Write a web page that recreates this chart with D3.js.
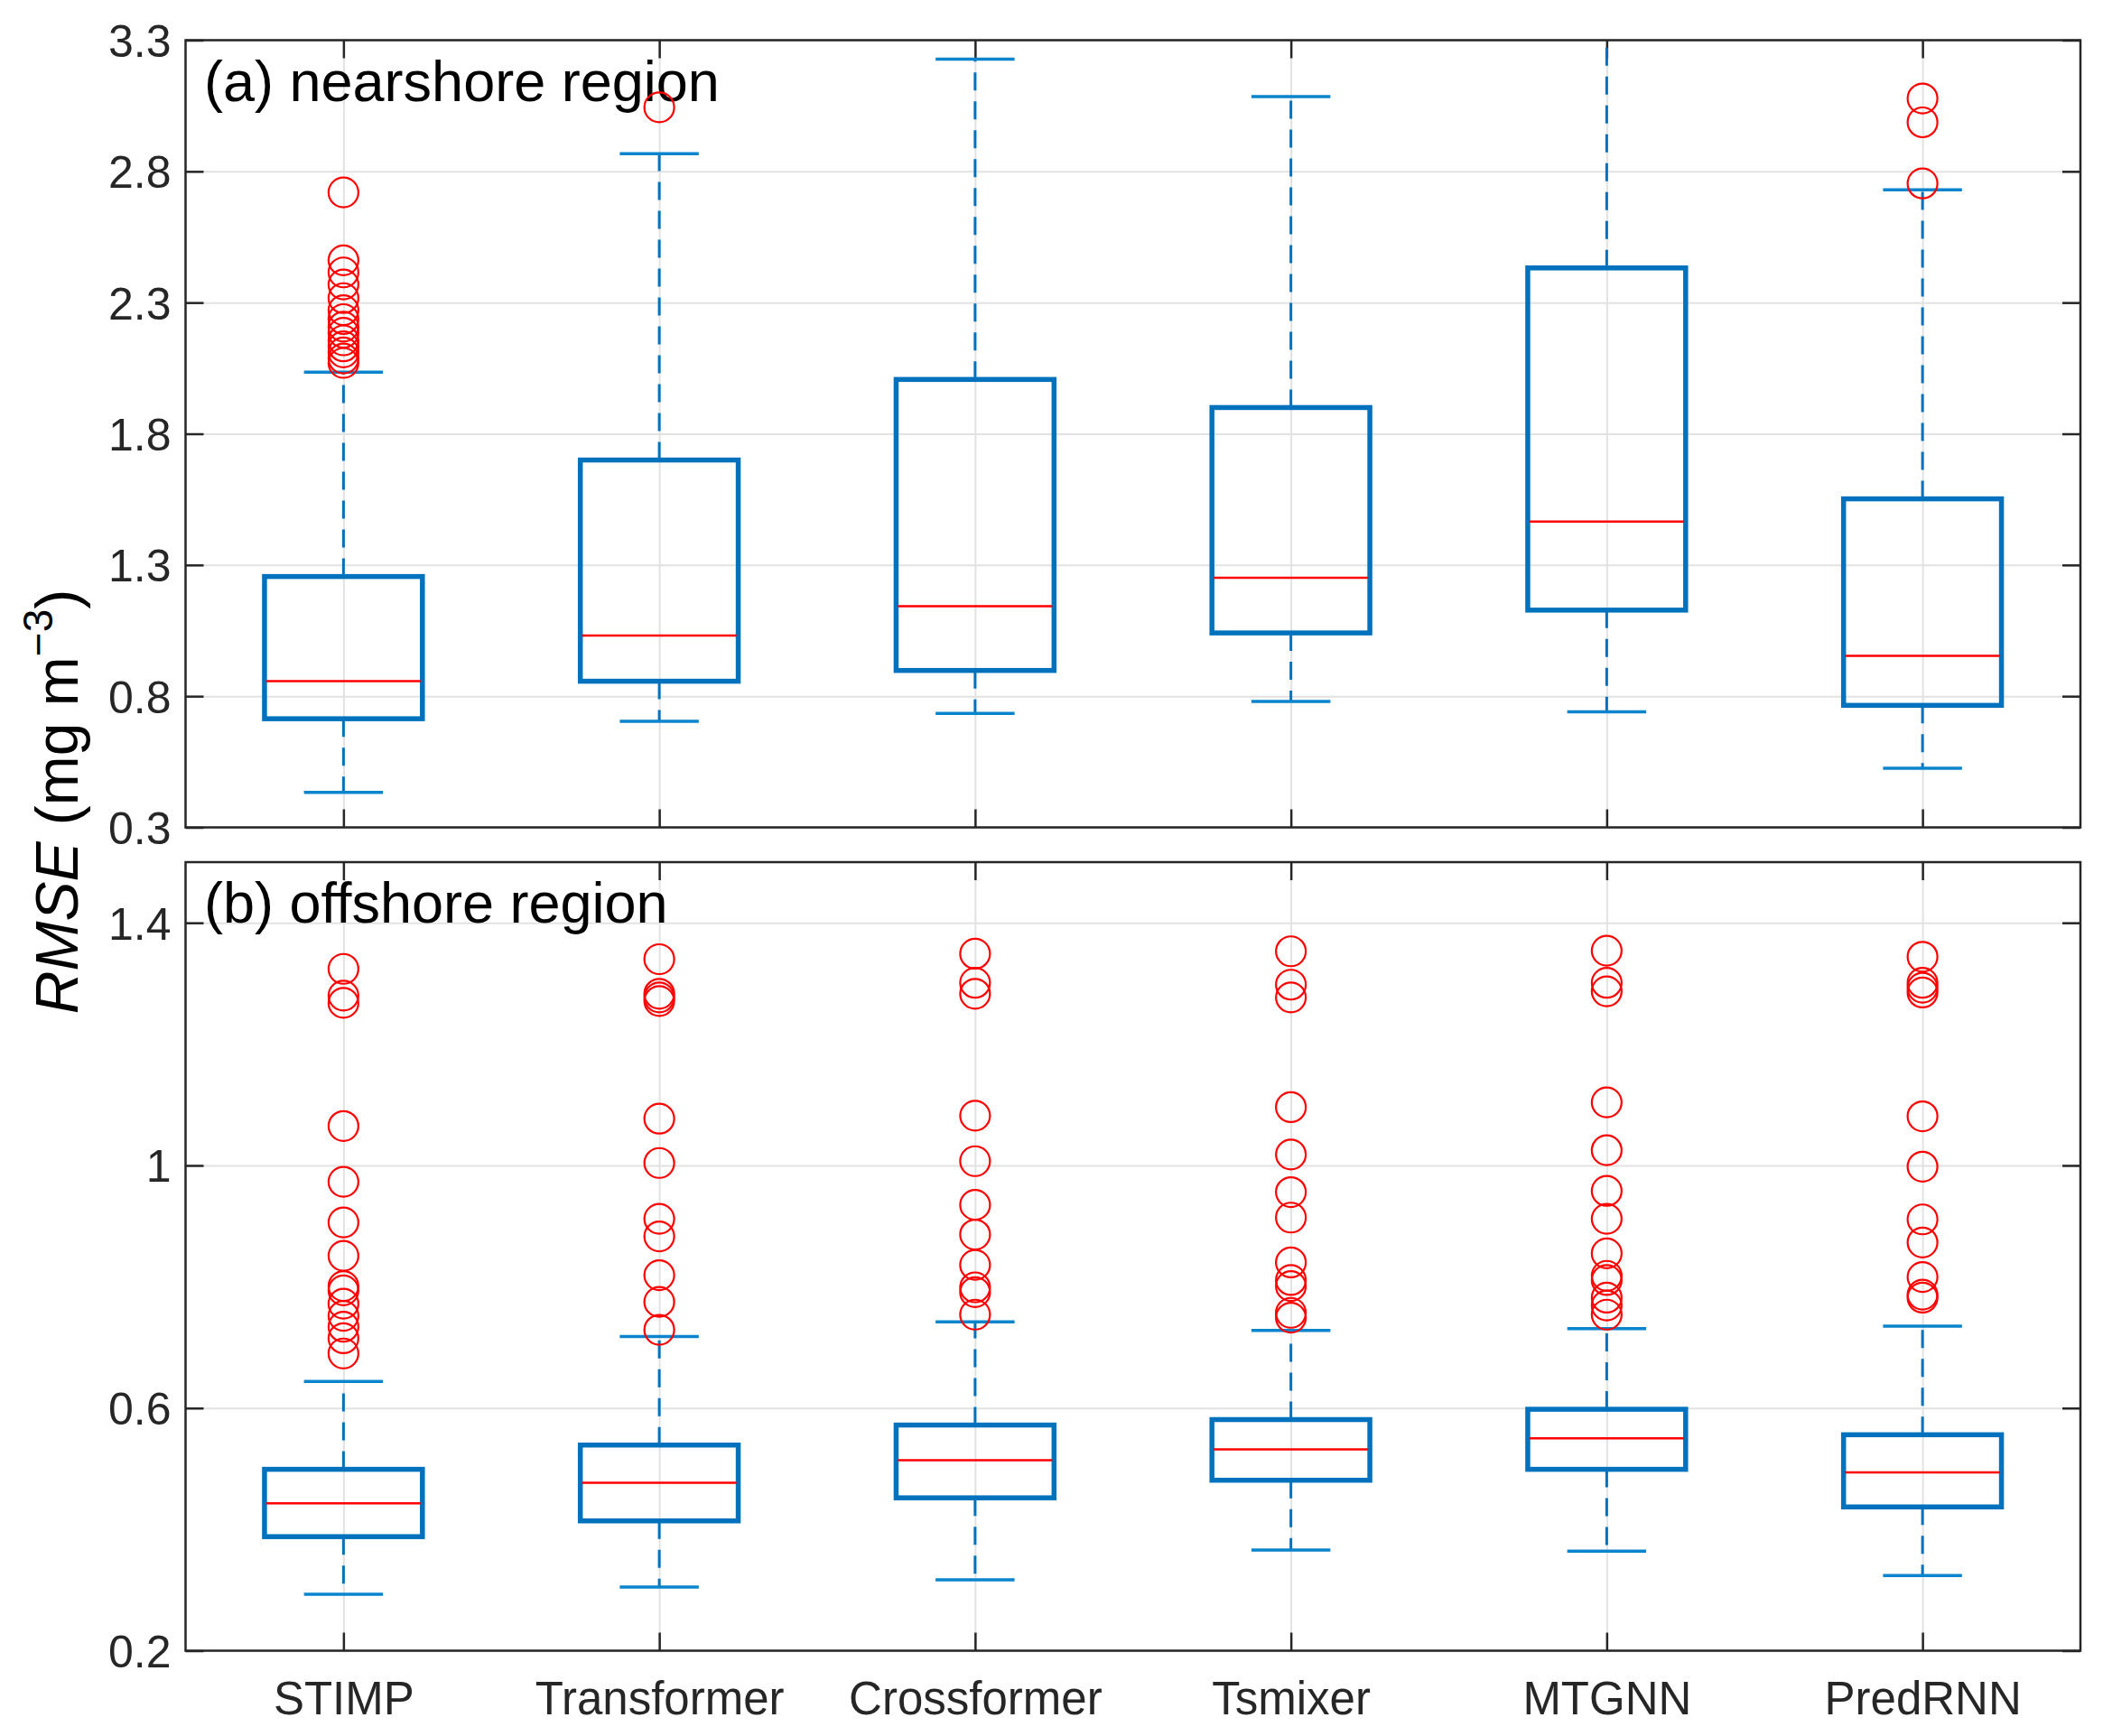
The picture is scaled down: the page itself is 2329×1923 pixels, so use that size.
<!DOCTYPE html>
<html>
<head>
<meta charset="utf-8">
<script src="https://cdn.jsdelivr.net/npm/d3@7"></script>
<style>
  html, body { margin: 0; padding: 0; background: #fff; }
  svg { display: block; font-family: "Liberation Sans", Arial, Helvetica, sans-serif; }
</style>
</head>
<body>
<div id="chart"></div>
<script>
// ── Datos ─────────────────────────────────────────────
const models = ['STIMP', 'Transformer', 'Crossformer', 'Tsmixer', 'MTGNN', 'PredRNN'];

// (a) nearshore
const nearQ1  = [0.714, 0.857, 0.898, 1.041, 1.128, 0.765];
const nearMed = [0.857, 1.031, 1.143, 1.251, 1.465, 0.954];
const nearQ3  = [1.256, 1.700, 2.007, 1.900, 2.432, 1.552];
const nearLo  = [0.433, 0.704, 0.734, 0.780, 0.740, 0.525];
const nearHi  = [2.035, 2.867, 3.228, 3.085, 3.500, 2.730];
const nearOut = [
    [2.72, 2.461, 2.415, 2.369, 2.317, 2.271, 2.237, 2.208, 2.185, 2.156, 2.133, 2.11, 2.087, 2.07],
    [3.044],
    [],
    [],
    [],
    [3.078, 2.987, 2.754]
];
const nearTicks = [0.3, 0.8, 1.3, 1.8, 2.3, 2.8, 3.3];

// (b) offshore
const offQ1  = [0.388, 0.414, 0.452, 0.481, 0.499, 0.437];
const offMed = [0.443, 0.477, 0.514, 0.532, 0.550, 0.494];
const offQ3  = [0.499, 0.539, 0.572, 0.581, 0.598, 0.556];
const offLo  = [0.293, 0.305, 0.317, 0.366, 0.364, 0.324];
const offHi  = [0.644, 0.718, 0.742, 0.728, 0.731, 0.735];
const offOut = [
    [1.324, 1.28, 1.268, 1.065, 0.973, 0.906, 0.851, 0.801, 0.794, 0.772, 0.752, 0.734, 0.715, 0.69],
    [1.34, 1.283, 1.277, 1.271, 1.077, 1.004, 0.912, 0.883, 0.819, 0.775, 0.729],
    [1.349, 1.301, 1.283, 1.082, 1.007, 0.935, 0.886, 0.836, 0.799, 0.791, 0.754],
    [1.353, 1.298, 1.277, 1.096, 1.018, 0.956, 0.914, 0.84, 0.811, 0.801, 0.757, 0.749],
    [1.354, 1.301, 1.287, 1.104, 1.025, 0.958, 0.912, 0.855, 0.818, 0.811, 0.782, 0.769, 0.754],
    [1.344, 1.301, 1.293, 1.285, 1.081, 0.998, 0.911, 0.873, 0.816, 0.787, 0.782]
];
const offTicks = [0.2, 0.6, 1, 1.4];

// ── Configuración general ─────────────────────────────
const W = 2329, H = 1923;
const left = 205.5, right = 2304;
const BLUE = '#0072BD', RED = '#FF0000', AXIS = '#262626', GRID = '#e2e2e2';

const svg = d3.select('#chart').append('svg')
    .attr('width', W).attr('height', H);

const x = d3.scalePoint().domain(models).range([left, right]).padding(0.5);
const step = x.step();

function drawPanel(opts) {
    const { id, top, bottom, domain, ticks, q1, med, q3, lo, hi, out, label, labelY, showX } = opts;
    const y = d3.scaleLinear().domain(domain).range([bottom, top]);
    const g = svg.append('g');

    g.append('clipPath').attr('id', 'clip-' + id)
        .append('rect')
        .attr('x', left).attr('y', top)
        .attr('width', right - left).attr('height', bottom - top);

    // ── Rejilla ──────────────────────────────────────
    const grid = g.append('g');
    grid.append('g')
        .attr('transform', `translate(${left},0)`)
        .call(d3.axisLeft(y).tickValues(ticks).tickSize(-(right - left)).tickFormat(''))
        .call(s => s.select('.domain').remove())
        .call(s => s.selectAll('line').attr('stroke', GRID).attr('stroke-width', 2));
    grid.append('g')
        .attr('transform', `translate(0,${bottom})`)
        .call(d3.axisBottom(x).tickSize(-(bottom - top)).tickFormat(''))
        .call(s => s.select('.domain').remove())
        .call(s => s.selectAll('line').attr('stroke', GRID).attr('stroke-width', 2));

    // ── Ejes (ticks hacia dentro) ────────────────────
    const tick = 20;
    const styleAxis = s => {
        s.select('.domain').remove();
        s.selectAll('line').attr('stroke', AXIS).attr('stroke-width', 2.5);
        s.selectAll('text')
            .attr('fill', AXIS)
            .style('font-size', '50px')
            .style('font-family', '"Liberation Sans", Arial, sans-serif');
    };
    g.append('g')
        .attr('transform', `translate(${left},0)`)
        .call(d3.axisLeft(y).tickValues(ticks).tickSize(-tick).tickPadding(16).tickFormat(d => String(d)))
        .call(styleAxis)
        .call(s => s.selectAll('text').attr('dy', '0.36em'));
    g.append('g')
        .attr('transform', `translate(${right},0)`)
        .call(d3.axisRight(y).tickValues(ticks).tickSize(-tick).tickFormat(''))
        .call(styleAxis);
    g.append('g')
        .attr('transform', `translate(0,${top})`)
        .call(d3.axisTop(x).tickSize(-tick).tickFormat(''))
        .call(styleAxis);
    g.append('g')
        .attr('transform', `translate(0,${bottom})`)
        .call(d3.axisBottom(x).tickSize(-tick).tickPadding(34).tickFormat(showX ? d => d : ''))
        .call(styleAxis)
        .call(s => s.selectAll('text').style('font-size', '51px'));

    // ── Etiqueta del panel ───────────────────────────
    g.append('text')
        .attr('x', 226).attr('y', labelY)
        .attr('fill', '#000')
        .style('font-size', '63px')
        .text(label);

    // ── Cajas ────────────────────────────────────────
    const data = models.map((m, i) => ({
        m, q1: q1[i], med: med[i], q3: q3[i], lo: lo[i], hi: hi[i], out: out[i]
    }));
    const plot = g.append('g').attr('clip-path', `url(#clip-${id})`);
    const box = plot.selectAll('g.box')
        .data(data)
        .join('g')
        .attr('class', 'box');

    const bw = step * 0.25, cw = step * 0.125;

    // bigotes discontinuos
    box.append('line')
        .attr('x1', d => x(d.m)).attr('x2', d => x(d.m))
        .attr('y1', d => y(d.q3)).attr('y2', d => y(d.hi))
        .attr('stroke', BLUE).attr('stroke-width', 3)
        .attr('stroke-dasharray', '20,12');
    box.append('line')
        .attr('x1', d => x(d.m)).attr('x2', d => x(d.m))
        .attr('y1', d => y(d.q1)).attr('y2', d => y(d.lo))
        .attr('stroke', BLUE).attr('stroke-width', 3)
        .attr('stroke-dasharray', '20,12');

    // topes
    box.append('line')
        .attr('x1', d => x(d.m) - cw).attr('x2', d => x(d.m) + cw)
        .attr('y1', d => y(d.hi)).attr('y2', d => y(d.hi))
        .attr('stroke', '#0a84cc').attr('stroke-width', 3.5);
    box.append('line')
        .attr('x1', d => x(d.m) - cw).attr('x2', d => x(d.m) + cw)
        .attr('y1', d => y(d.lo)).attr('y2', d => y(d.lo))
        .attr('stroke', '#0a84cc').attr('stroke-width', 3.5);

    box.append('rect')
        .attr('x', d => x(d.m) - bw)
        .attr('y', d => y(d.q3))
        .attr('width', bw * 2)
        .attr('height', d => y(d.q1) - y(d.q3))
        .attr('fill', 'none')
        .attr('stroke', BLUE).attr('stroke-width', 5.5);

    box.append('line')
        .attr('x1', d => x(d.m) - bw + 2).attr('x2', d => x(d.m) + bw - 2)
        .attr('y1', d => y(d.med)).attr('y2', d => y(d.med))
        .attr('stroke', RED).attr('stroke-width', 2.5);

    // valores atípicos
    box.selectAll('circle')
        .data(d => d.out.map(v => ({ m: d.m, v })))
        .join('circle')
        .attr('cx', d => x(d.m))
        .attr('cy', d => y(d.v))
        .attr('r', 16.5)
        .attr('fill', 'none')
        .attr('stroke', RED).attr('stroke-width', 2.2);

    // marco
    g.append('rect')
        .attr('x', left).attr('y', top)
        .attr('width', right - left).attr('height', bottom - top)
        .attr('fill', 'none')
        .attr('stroke', AXIS).attr('stroke-width', 2.5);
}

drawPanel({
    id: 'near', top: 44.5, bottom: 916.5, domain: [0.3, 3.3], ticks: nearTicks,
    q1: nearQ1, med: nearMed, q3: nearQ3, lo: nearLo, hi: nearHi, out: nearOut,
    label: '(a) nearshore region', labelY: 112, showX: false
});
drawPanel({
    id: 'off', top: 955, bottom: 1828.5, domain: [0.2, 1.5], ticks: offTicks,
    q1: offQ1, med: offMed, q3: offQ3, lo: offLo, hi: offHi, out: offOut,
    label: '(b) offshore region', labelY: 1022, showX: true
});

// ── Título del eje Y ──────────────────────────────────
const yl = svg.append('text')
    .attr('transform', 'translate(86,888) rotate(-90)')
    .attr('text-anchor', 'middle')
    .attr('fill', '#000')
    .style('font-size', '66px');
yl.append('tspan').style('font-style', 'italic').text('RMSE');
yl.append('tspan').text(' (mg m');
yl.append('tspan').attr('dy', -28).style('font-size', '46px').text('\u22123');
yl.append('tspan').attr('dy', 28).text(')');
</script>
</body>
</html>
